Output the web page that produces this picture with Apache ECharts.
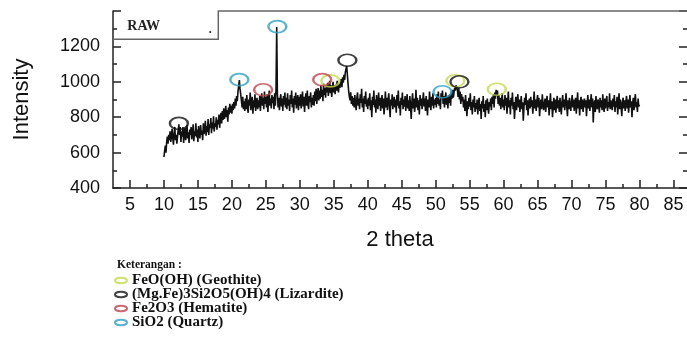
<!DOCTYPE html>
<html>
<head>
<meta charset="utf-8">
<script src="https://cdn.jsdelivr.net/npm/echarts@6/dist/echarts.min.js"></script>
<style>html,body{margin:0;padding:0;background:#fff;}#c{width:687px;height:337px;}</style>
</head>
<body>
<div id="c"></div>
<script>
// XRD scan: 2-theta from 10.0 to 80.0 in steps of 0.1
const thetaStart = 10.0;
const thetaStep = 0.1;
const intensity = [
575,610,640,600,660,690,650,700,670,720,660,690,735,680,645,710,745,670,700,650,
690,730,760,700,745,660,720,690,745,655,710,740,670,700,755,680,715,655,730,700,
745,675,705,760,665,720,695,765,685,730,660,750,710,680,755,700,725,670,765,705,
730,780,695,750,715,790,700,760,740,795,710,770,735,805,720,765,745,800,730,785,
760,815,740,795,825,765,835,785,850,790,815,865,800,840,775,855,815,875,825,865,
820,875,840,885,850,905,865,920,890,945,975,1010,960,930,895,855,915,845,890,835,
905,845,925,855,825,900,865,940,840,885,915,820,895,855,930,835,880,910,845,895,
855,920,835,900,935,865,910,845,945,875,915,855,930,830,900,950,865,905,850,925,
880,915,845,935,865,965,1310,935,855,910,840,895,930,860,905,835,920,870,940,855,
910,845,935,865,900,835,925,875,950,855,905,825,920,870,940,850,895,925,840,915,
865,930,850,905,945,860,915,830,900,935,865,950,875,845,920,885,940,855,910,870,
925,865,945,890,960,875,930,965,895,950,905,980,915,955,890,990,925,965,910,980,
940,995,920,970,1005,935,980,915,965,1000,940,980,930,985,950,1005,960,940,995,965,
990,1015,970,1025,995,1040,1010,1055,1065,1090,1040,990,945,915,895,940,875,920,865,910,
855,925,875,840,910,940,865,905,845,930,880,960,855,905,830,920,875,945,860,900,
845,910,865,935,840,895,800,915,870,950,855,900,825,925,875,845,940,865,910,835,
890,925,850,905,815,870,945,855,910,840,895,935,860,800,900,865,930,845,885,915,
855,900,825,925,865,950,850,890,810,910,870,940,845,900,860,920,835,885,930,850,
895,835,920,865,790,885,935,850,905,830,870,955,855,910,840,895,815,925,865,905,
845,890,940,860,905,835,920,870,810,900,855,945,875,840,915,865,935,850,900,870,
910,855,930,875,945,865,900,845,935,910,950,875,920,855,905,940,870,915,850,925,
880,930,865,945,905,955,910,940,965,950,980,990,955,915,965,900,945,875,930,890,
915,855,900,835,925,865,805,890,845,910,860,935,840,885,815,900,855,920,830,880,
845,900,815,880,910,835,875,790,890,850,920,830,875,800,895,840,905,855,820,885,
860,905,840,915,875,930,855,940,905,955,920,950,875,925,865,910,845,895,935,855,
900,840,925,865,910,820,885,945,855,895,815,910,865,940,845,885,790,860,915,840,
890,930,855,900,830,875,920,845,885,780,855,910,870,935,840,895,810,880,905,850,
915,860,895,820,880,945,850,900,835,890,925,855,910,805,865,900,845,930,875,840,
875,905,830,885,920,855,895,810,880,935,845,890,800,860,910,840,900,825,885,920,
850,895,830,910,865,815,885,925,855,900,840,885,935,860,805,895,845,910,865,835,
890,925,855,900,835,880,910,820,875,940,850,895,810,885,915,845,900,830,880,905,
855,895,805,875,925,850,900,835,885,930,855,905,770,870,895,830,920,865,845,900,
880,825,910,855,895,840,930,865,830,905,850,890,920,835,885,855,935,845,895,865,
840,905,860,925,830,890,855,915,815,880,935,845,900,865,805,885,910,850,895,835,
885,920,850,900,825,875,925,855,890,800,880,910,840,895,930,855,885,830,905,860,
870
];

// Marked phase peaks [2theta, intensity]
const geothitePeaks = [[34.5, 1005], [52.9, 1006], [59.0, 958]];
const lizarditePeaks = [[12.2, 765], [37.0, 1122], [53.5, 1000]];
const hematitePeaks = [[24.6, 955], [33.3, 1012]];
const quartzPeaks = [[21.1, 1012], [26.7, 1312], [51.0, 944]];

const phaseNames = ['FeO(OH) (Geothite)', '(Mg.Fe)3Si2O5(OH)4 (Lizardite)', 'Fe2O3 (Hematite)', 'SiO2 (Quartz)'];
const phaseColors = ['#c6d94e', '#111111', '#c0424e', '#2f9fc4'];

// Axis ticks / labels
const xMajorTicks = [5,10,15,20,25,30,35,40,45,50,55,60,65,70,75,80,85];
const xMinorTicks = [7.5,12.5,17.5,22.5,27.5,32.5,37.5,42.5,47.5,52.5,57.5,62.5,67.5,72.5,77.5,82.5];
const yLabels = [400, 600, 800, 1000, 1200];

const xMin = 2.5, xMax = 87, yMin = 400, yMax = 1400;

const lineData = intensity.map((v, i) => [+(thetaStart + i * thetaStep).toFixed(1), v]);

const chart = echarts.init(document.getElementById('c'));
const axisColor = '#222';
const peakSets = [geothitePeaks, lizarditePeaks, hematitePeaks, quartzPeaks];
const ellipseIcon = 'path://M1,6a12,5.5 0 1,0 24,0a12,5.5 0 1,0 -24,0z';

const option = {
  animation: false,
  backgroundColor: '#fff',
  title: {
    text: 'Keterangan :',
    left: 112, top: 254,
    textStyle: { fontFamily: 'Liberation Serif', fontWeight: 'bold', fontSize: 11.5, color: '#111' }
  },
  legend: {
    orient: 'vertical',
    left: 109, top: 268, height: 80,
    itemWidth: 12, itemHeight: 7, itemGap: -1,
    itemStyle: { borderWidth: 2 },
    data: phaseNames.map(n => ({ name: n, icon: ellipseIcon })),
    textStyle: { fontFamily: 'Liberation Serif', fontWeight: 'bold', fontSize: 15, color: '#111' }
  },
  grid: { left: 113, right: 0, top: 11, bottom: 149 },
  xAxis: [{
    type: 'value', min: xMin, max: xMax,
    name: '2 theta', nameLocation: 'middle', nameGap: 41,
    nameTextStyle: { fontFamily: 'Liberation Sans', fontSize: 22, color: '#111' },
    axisLine: { lineStyle: { color: axisColor, width: 1.5 } },
    axisTick: { inside: true, length: 8, customValues: xMajorTicks, lineStyle: { color: axisColor, width: 1.5 } },
    axisLabel: { customValues: xMajorTicks, margin: 8, fontFamily: 'Liberation Sans', fontSize: 18, color: '#111' },
    splitLine: { show: false }
  }, {
    type: 'value', min: xMin, max: xMax, position: 'bottom',
    axisLine: { show: false },
    axisTick: { inside: true, length: 4, customValues: xMinorTicks, lineStyle: { color: axisColor, width: 1.5 } },
    axisLabel: { show: false },
    splitLine: { show: false }
  }],
  yAxis: [{
    type: 'value', min: yMin, max: yMax, interval: 200,
    name: 'Intensity', nameLocation: 'middle', nameGap: 80,
    nameTextStyle: { fontFamily: 'Liberation Sans', fontSize: 22, color: '#111' },
    axisLine: { show: true, lineStyle: { color: axisColor, width: 1.5 } },
    axisTick: { inside: true, length: 8, lineStyle: { color: axisColor, width: 1.5 } },
    minorTick: { show: true, splitNumber: 2, length: 4, lineStyle: { color: axisColor, width: 1.5 } },
    axisLabel: {
      margin: 13, fontFamily: 'Liberation Sans', fontSize: 18, color: '#111',
      formatter: v => (yLabels.indexOf(v) >= 0 ? String(v) : '')
    },
    splitLine: { show: false }
  }, {
    type: 'value', min: yMin, max: yMax, interval: 200, position: 'right',
    axisLine: { show: false },
    axisTick: { show: true, inside: true, length: 8, lineStyle: { color: axisColor, width: 1.5 } },
    minorTick: { show: true, splitNumber: 2, length: 4, lineStyle: { color: axisColor, width: 1.5 } },
    axisLabel: { show: false },
    splitLine: { show: false }
  }],
  series: [{
    type: 'line', name: 'XRD', data: lineData, xAxisIndex: 0, yAxisIndex: 0,
    showSymbol: false, symbol: 'none', sampling: false,
    lineStyle: { color: '#111', width: 1.6 }, z: 2, silent: true
  }].concat(peakSets.map((pts, i) => ({
    type: 'scatter', name: phaseNames[i], data: pts, xAxisIndex: 0, yAxisIndex: 0,
    symbol: 'circle', symbolSize: [18, 12],
    itemStyle: { color: 'rgba(255,255,255,0)', borderColor: phaseColors[i], borderWidth: 2 },
    z: 5, silent: true
  })))
};
chart.setOption(option);

// RAW label box drawn from data coordinates
const boxCorner = [18, 1240];
const toPx = p => chart.convertToPixel({ xAxisIndex: 0, yAxisIndex: 0 }, p);
const pts = [[xMin, boxCorner[1]], [boxCorner[0], boxCorner[1]], [boxCorner[0], yMax], [xMax, yMax]].map(toPx);
const rawPos = toPx([4.6, 1312]);
const dotPos = toPx([16.6, 1292]);
chart.setOption({
  graphic: [
    { type: 'polyline', shape: { points: pts }, style: { stroke: '#666', lineWidth: 1.5, fill: null }, z: 10 },
    { type: 'text', x: rawPos[0], y: rawPos[1], style: { text: 'RAW', fontFamily: 'Liberation Serif', fontWeight: 'bold', fontSize: 14, fill: '#222', verticalAlign: 'middle' }, z: 10 },
    { type: 'text', x: dotPos[0], y: dotPos[1], style: { text: '.', fontFamily: 'Liberation Serif', fontWeight: 'bold', fontSize: 12, fill: '#222', verticalAlign: 'middle' }, z: 10 }
  ]
});
</script>
</body>
</html>
